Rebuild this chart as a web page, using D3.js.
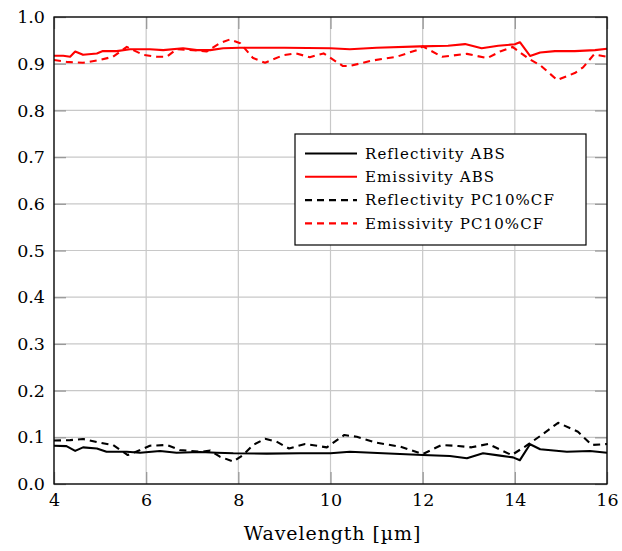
<!DOCTYPE html>
<html>
<head>
<meta charset="utf-8">
<script src="https://cdn.jsdelivr.net/npm/d3@7"></script>
<style>
  body { margin: 0; background: #fff; }
  text { font-family: "DejaVu Serif", serif; }
</style>
</head>
<body>
<div id="chart"></div>
<script>
// wavelength [um] / value pairs
var emisAbsW = [4.0, 4.2, 4.35, 4.46, 4.63, 4.93, 5.06, 5.36, 5.65, 6.08, 6.37, 6.8, 7.1, 7.39, 7.67, 8.04, 9.0, 10.0, 10.42, 11.0, 11.94, 12.55, 12.92, 13.28, 13.64, 14.0, 14.11, 14.33, 14.55, 14.87, 15.3, 15.74, 16.0];
var emisAbsV = [0.917, 0.917, 0.915, 0.926, 0.919, 0.922, 0.927, 0.927, 0.931, 0.931, 0.929, 0.933, 0.929, 0.929, 0.933, 0.934, 0.934, 0.933, 0.931, 0.934, 0.937, 0.9385, 0.942, 0.933, 0.9385, 0.9415, 0.946, 0.9165, 0.924, 0.927, 0.927, 0.929, 0.932];

var emisPcW = [4.0, 4.27, 4.63, 5.0, 5.28, 5.58, 5.72, 5.94, 6.23, 6.45, 6.66, 7.02, 7.31, 7.6, 7.82, 8.04, 8.32, 8.58, 8.97, 9.25, 9.55, 9.85, 10.27, 10.42, 10.86, 11.44, 11.9, 12.0, 12.42, 12.96, 13.4, 13.68, 13.95, 14.31, 14.55, 14.92, 15.3, 15.48, 15.72, 16.0];
var emisPcV = [0.908, 0.904, 0.902, 0.908, 0.915, 0.936, 0.929, 0.919, 0.915, 0.915, 0.931, 0.929, 0.926, 0.944, 0.952, 0.944, 0.912, 0.902, 0.918, 0.922, 0.914, 0.922, 0.895, 0.895, 0.906, 0.915, 0.93, 0.937, 0.915, 0.921, 0.912, 0.926, 0.936, 0.91, 0.897, 0.865, 0.88, 0.892, 0.92, 0.915];

var reflAbsW = [4.0, 4.27, 4.46, 4.63, 4.93, 5.14, 5.58, 5.87, 6.3, 6.66, 7.17, 7.53, 7.89, 8.62, 9.34, 10.0, 10.42, 11.14, 12.0, 12.59, 12.96, 13.31, 13.68, 13.96, 14.11, 14.33, 14.55, 15.13, 15.63, 16.0];
var reflAbsV = [0.082, 0.081, 0.071, 0.0785, 0.076, 0.069, 0.069, 0.067, 0.0707, 0.067, 0.0685, 0.067, 0.0657, 0.065, 0.0657, 0.0657, 0.069, 0.0657, 0.062, 0.06, 0.055, 0.0657, 0.0607, 0.057, 0.051, 0.085, 0.0743, 0.069, 0.0707, 0.067];

var reflPcW = [4.0, 4.35, 4.63, 5.0, 5.28, 5.6, 5.87, 6.08, 6.45, 6.73, 7.17, 7.39, 7.6, 7.89, 8.1, 8.32, 8.58, 8.83, 9.1, 9.45, 9.92, 10.3, 10.57, 11.0, 11.51, 12.0, 12.41, 12.77, 13.06, 13.42, 13.93, 14.22, 14.55, 14.94, 15.37, 15.67, 16.0];
var reflPcV = [0.093, 0.094, 0.0964, 0.0885, 0.0835, 0.062, 0.0728, 0.082, 0.0835, 0.0728, 0.069, 0.0714, 0.0585, 0.048, 0.062, 0.0835, 0.097, 0.0906, 0.076, 0.0857, 0.0785, 0.105, 0.101, 0.0885, 0.08, 0.064, 0.0835, 0.0814, 0.0785, 0.0857, 0.062, 0.08, 0.1028, 0.131, 0.112, 0.0835, 0.0857];

var seriesNames = ["Reflectivity ABS", "Emissivity ABS", "Reflectivity PC10%CF", "Emissivity PC10%CF"];
var xTicks = [4, 6, 8, 10, 12, 14, 16];
var yTicks = [0, 0.1, 0.2, 0.3, 0.4, 0.5, 0.6, 0.7, 0.8, 0.9, 1.0];

var series = [
  {name: seriesNames[0], w: reflAbsW, v: reflAbsV, color: "#000", dash: null},
  {name: seriesNames[1], w: emisAbsW, v: emisAbsV, color: "#ff0000", dash: null},
  {name: seriesNames[2], w: reflPcW, v: reflPcV, color: "#000", dash: "7,5"},
  {name: seriesNames[3], w: emisPcW, v: emisPcV, color: "#ff0000", dash: "7,5"}
];

var margin = {top: 17, right: 15, bottom: 67, left: 54},
  width = 622 - margin.left - margin.right,
  height = 551 - margin.top - margin.bottom;

var svg = d3.select("#chart").append("svg")
  .attr("width", 622)
  .attr("height", 551)
  .append("g")
  .attr("transform", "translate(" + margin.left + "," + margin.top + ")");

var x = d3.scaleLinear().domain([4, 16]).range([0, width]);
var y = d3.scaleLinear().domain([0, 1]).range([height, 0]);

// grid
svg.append("g").selectAll("line.gx").data(xTicks).enter().append("line")
  .attr("x1", d => x(d)).attr("x2", d => x(d))
  .attr("y1", 0).attr("y2", height)
  .style("stroke", "#c8c8c8").style("stroke-width", 1.2);
svg.append("g").selectAll("line.gy").data(yTicks).enter().append("line")
  .attr("x1", 0).attr("x2", width)
  .attr("y1", d => y(d)).attr("y2", d => y(d))
  .style("stroke", "#c8c8c8").style("stroke-width", 1.2);

// axes (inward ticks on all four sides)
var tl = 12;
var fmtY = d3.format(".1f");
var xb = svg.append("g").attr("transform", "translate(0," + height + ")")
  .call(d3.axisBottom(x).tickValues(xTicks).tickSize(-tl).tickPadding(10));
var xt = svg.append("g")
  .call(d3.axisTop(x).tickValues(xTicks).tickSize(-tl).tickFormat(""));
var yl = svg.append("g")
  .call(d3.axisLeft(y).tickValues(yTicks).tickSize(-tl).tickPadding(9).tickFormat(fmtY));
var yr = svg.append("g").attr("transform", "translate(" + width + ",0)")
  .call(d3.axisRight(y).tickValues(yTicks).tickSize(-tl).tickFormat(""));

[xb, xt, yl, yr].forEach(function(g) {
  g.select(".domain").remove();
  g.selectAll(".tick line").style("stroke", "#999").style("stroke-width", 1.3);
  g.selectAll(".tick text").style("font-family", "'DejaVu Serif', serif")
    .style("font-size", "17.5px").style("fill", "#000");
});

// lines
var line = d3.line()
  .x(d => x(d[0]))
  .y(d => y(d[1]))
  .curve(d3.curveLinear);

svg.append("defs").append("clipPath").attr("id", "clip")
  .append("rect").attr("width", width).attr("height", height);

svg.append("g").attr("clip-path", "url(#clip)")
  .selectAll("path.series").data(series).enter().append("path")
  .attr("d", d => line(d.w.map((w, i) => [w, d.v[i]])))
  .style("fill", "none")
  .style("stroke", d => d.color)
  .style("stroke-width", 2.1)
  .style("stroke-linejoin", "round")
  .style("stroke-dasharray", d => d.dash);

// frame
svg.append("rect").attr("width", width).attr("height", height)
  .style("fill", "none").style("stroke", "#000").style("stroke-width", 1.3);

// x label
svg.append("text")
  .attr("x", width / 2 + 2).attr("y", height + 56)
  .attr("text-anchor", "middle")
  .style("font-size", "19px")
  .style("letter-spacing", "0.9px")
  .text("Wavelength [\u00b5m]");

// legend
var lg = svg.append("g").attr("transform", "translate(" + (295 - margin.left) + "," + (134 - margin.top) + ")");
lg.append("rect").attr("width", 291).attr("height", 111)
  .style("fill", "#fff").style("stroke", "#000").style("stroke-width", 1.2);
var rows = lg.selectAll("g.row").data(series).enter().append("g")
  .attr("transform", (d, i) => "translate(0," + (19.5 + i * 23.3) + ")");
rows.append("line").attr("x1", 10).attr("x2", 62)
  .style("stroke", d => d.color).style("stroke-width", 2.1)
  .style("stroke-dasharray", d => d.dash);
rows.append("text").attr("x", 70).attr("dy", "0.35em")
  .style("font-size", "15px")
  .style("letter-spacing", "1.1px")
  .text(d => d.name);
</script>
</body>
</html>
